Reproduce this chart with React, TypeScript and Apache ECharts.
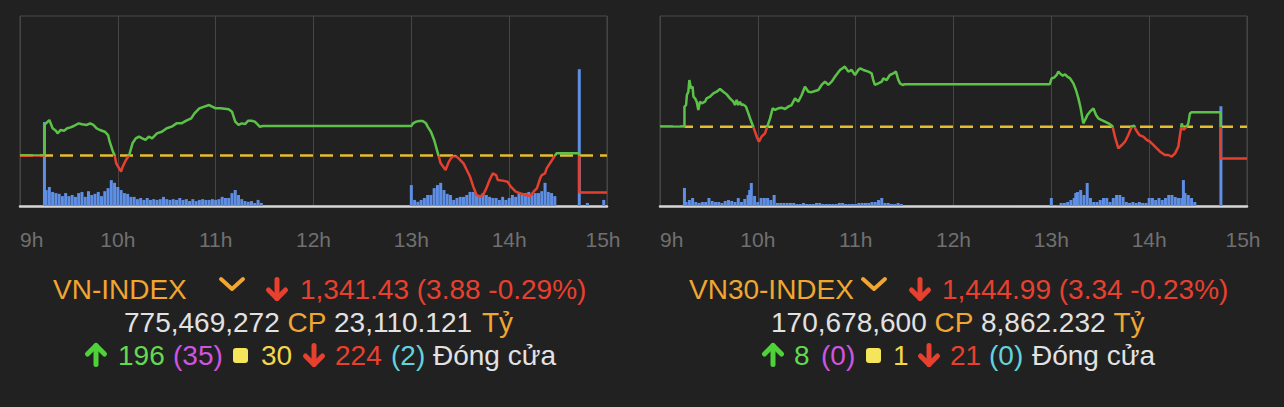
import React, { useEffect, useRef } from "react";
import * as echarts from "echarts";

const FF = "'Liberation Sans', Arial, 'DejaVu Sans', sans-serif";
const hourLabels = ["9h", "10h", "11h", "12h", "13h", "14h", "15h"];

// ---- VN-INDEX (minutes after 9:00, index points) ----
const vnRef = 1345.31;
const vnClose = 1341.43;
const vnTimes = [0, 15, 15, 17, 18, 20, 22, 23, 25, 27, 29, 31, 33, 36, 38, 41, 43, 45, 47, 49, 52, 54, 55, 57, 58, 59, 62, 63, 65, 67, 69, 71, 73, 75, 77, 79, 81, 84, 87, 90, 93, 96, 99, 102, 105, 107, 110, 113, 116, 120, 123, 128, 130, 132, 134, 136, 138, 140, 142, 144, 146, 147, 149, 150, 240, 241, 243, 245, 247, 249, 250, 252, 254, 256, 258, 261, 263, 265, 267, 269, 272, 274, 276, 278, 280, 282, 284, 286, 288, 290, 292, 293, 296, 299, 301, 304, 307, 310, 313, 315, 317, 319, 320, 322, 323, 325, 327, 329, 343, 343, 360];
const vnPrices = [1345.31, 1345.31, 1348.53, 1348.88, 1349.05, 1348.18, 1347.93, 1347.65, 1348.0, 1347.93, 1348.18, 1348.28, 1348.42, 1348.7, 1348.6, 1348.53, 1348.7, 1348.53, 1348.18, 1348.0, 1347.82, 1347.47, 1346.77, 1345.72, 1345.37, 1344.49, 1343.61, 1344.14, 1344.84, 1345.37, 1346.6, 1347.12, 1347.3, 1347.12, 1346.95, 1347.3, 1347.12, 1347.65, 1347.82, 1348.18, 1348.35, 1348.7, 1348.7, 1348.98, 1349.23, 1349.75, 1350.28, 1350.46, 1350.63, 1350.28, 1350.28, 1350.18, 1349.93, 1348.88, 1348.53, 1348.7, 1348.63, 1348.98, 1348.98, 1348.88, 1348.53, 1348.35, 1348.42, 1348.42, 1348.42, 1348.7, 1348.88, 1348.95, 1348.95, 1348.7, 1348.35, 1347.82, 1346.95, 1345.72, 1344.49, 1343.79, 1344.67, 1345.19, 1345.26, 1345.02, 1344.49, 1343.79, 1343.09, 1342.04, 1341.16, 1340.98, 1341.16, 1341.86, 1342.74, 1343.44, 1343.26, 1342.74, 1342.67, 1342.56, 1342.04, 1341.51, 1341.33, 1341.16, 1341.05, 1341.51, 1341.86, 1342.91, 1343.26, 1343.44, 1343.96, 1344.49, 1345.02, 1345.54, 1345.54, vnClose, vnClose];
const vnVolTimes = [15, 16, 18, 20, 22, 24, 26, 28, 30, 32, 34, 36, 38, 40, 42, 44, 46, 48, 50, 52, 54, 56, 58, 60, 62, 64, 66, 68, 70, 72, 74, 76, 78, 80, 82, 84, 86, 88, 90, 92, 94, 96, 98, 100, 102, 104, 106, 108, 110, 112, 114, 116, 118, 120, 122, 124, 126, 128, 130, 132, 134, 136, 138, 140, 142, 144, 146, 148, 240, 242, 244, 246, 248, 250, 252, 254, 256, 258, 260, 262, 264, 266, 268, 270, 272, 274, 276, 278, 280, 282, 284, 286, 288, 290, 292, 294, 296, 298, 300, 302, 304, 306, 308, 310, 312, 314, 316, 318, 320, 322, 324, 326, 328, 343, 348, 358];
const vnVols = [22.1, 4.2, 5.0, 3.7, 3.4, 3.2, 2.6, 3.4, 2.6, 2.9, 2.4, 3.4, 3.7, 2.4, 3.9, 2.9, 3.2, 3.7, 2.6, 3.9, 4.7, 6.8, 6.1, 5.0, 4.2, 3.4, 3.2, 2.4, 2.4, 1.8, 2.1, 1.6, 2.1, 1.6, 1.8, 1.6, 1.8, 2.4, 1.8, 1.6, 1.8, 1.6, 2.1, 1.6, 1.8, 1.3, 1.8, 1.3, 1.6, 1.8, 1.6, 1.6, 1.8, 1.6, 1.8, 2.4, 2.1, 2.1, 3.4, 4.2, 2.9, 1.8, 1.3, 1.1, 1.3, 0.8, 1.6, 0.8, 5.5, 1.6, 1.1, 1.6, 2.1, 2.9, 2.9, 4.7, 5.5, 6.1, 4.2, 3.2, 2.9, 1.6, 2.1, 2.4, 2.4, 2.9, 3.7, 3.7, 2.9, 2.4, 3.4, 2.9, 2.4, 2.1, 2.1, 1.6, 2.4, 1.6, 2.1, 2.9, 2.4, 3.4, 2.9, 3.4, 3.7, 2.9, 3.4, 3.4, 3.9, 6.1, 3.7, 3.4, 2.6, 36.0, 0.8, 1.6];

// ---- VN30-INDEX ----
const v30Ref = 1448.33;
const v30Close = 1444.99;
const v30Times = [0, 15, 15, 16, 16.5, 17.4, 18, 19, 20, 20.5, 21.5, 22.5, 23.5, 24.5, 25.6, 27.6, 28.6, 30.7, 32.7, 34.8, 36.8, 38.8, 40.9, 42.9, 45, 46, 47, 48, 49, 50, 51, 52.7, 54.2, 55.6, 57.2, 59.3, 60.7, 62.3, 64.4, 65.8, 67.5, 69.1, 70.5, 72.6, 74.6, 76.7, 78.7, 80.7, 82.8, 84.8, 86.9, 88.9, 91, 93, 95.1, 97.1, 99.1, 101.2, 103.2, 105.3, 107.3, 110.4, 113.4, 115.5, 117.5, 119.6, 121.6, 122.7, 124.7, 127.8, 129.8, 130.8, 131.8, 133.9, 136, 137, 139, 141, 143.1, 144.7, 146.2, 147.2, 148.8, 150, 239, 240.2, 241.7, 243.3, 244.3, 245.3, 247, 248.4, 249.8, 251.5, 253.5, 255.1, 256.6, 258, 259.6, 260.7, 262.1, 263.7, 265.8, 267.4, 268.8, 270.9, 272.9, 275, 277, 277.6, 279, 281.1, 283.2, 285.2, 287.2, 289.3, 290.7, 291.9, 294, 296.4, 298.5, 300.5, 303.6, 306.7, 309.7, 311.8, 313.8, 315.9, 317.9, 318.9, 320, 321, 322, 323, 324, 325, 326, 343.9, 343.9, 360];
const v30Prices = [1448.33, 1448.33, 1450.46, 1450.63, 1451.68, 1452.03, 1453.26, 1452.39, 1452.56, 1451.51, 1451.33, 1450.98, 1450.11, 1450.98, 1450.81, 1450.98, 1451.33, 1451.51, 1451.86, 1452.03, 1452.32, 1452.03, 1451.75, 1451.33, 1450.98, 1450.63, 1451.16, 1450.63, 1450.98, 1450.63, 1450.7, 1450.46, 1449.75, 1449.05, 1448.35, 1447.3, 1446.77, 1447.3, 1447.65, 1448.35, 1449.23, 1450.28, 1450.11, 1450.28, 1450.35, 1450.21, 1450.46, 1450.63, 1451.33, 1450.98, 1451.68, 1452.56, 1452.03, 1451.98, 1452.11, 1452.21, 1452.74, 1453.09, 1452.74, 1453.09, 1453.61, 1454.32, 1454.67, 1454.14, 1454.32, 1453.79, 1454.32, 1454.49, 1454.32, 1454.14, 1453.96, 1453.26, 1452.74, 1452.91, 1453.09, 1453.44, 1453.26, 1453.79, 1453.96, 1454.14, 1453.26, 1452.91, 1452.74, 1452.81, 1452.81, 1453.44, 1453.51, 1453.79, 1454.14, 1453.96, 1453.72, 1453.86, 1453.61, 1453.44, 1452.91, 1452.21, 1451.33, 1450.28, 1448.7, 1449.05, 1449.58, 1449.93, 1450.28, 1449.58, 1449.23, 1449.05, 1448.88, 1448.7, 1448.46, 1448.35, 1447.3, 1446.07, 1446.42, 1446.77, 1447.47, 1448.35, 1448.46, 1448.0, 1447.47, 1447.3, 1446.95, 1446.77, 1446.25, 1445.72, 1445.37, 1445.37, 1445.19, 1445.54, 1446.25, 1447.47, 1448.7, 1448.0, 1448.18, 1448.35, 1448.7, 1449.75, 1449.86, 1449.86, v30Close, v30Close];
const v30VolTimes = [15, 16, 18, 20, 22, 24, 26, 28, 30, 32, 34, 36, 38, 40, 42, 44, 46, 48, 50, 52, 54, 55, 56, 58, 60, 62, 64, 66, 68, 70, 72, 74, 76, 78, 80, 82, 84, 86, 88, 90, 92, 94, 96, 98, 100, 102, 104, 106, 108, 110, 112, 114, 116, 118, 120, 122, 124, 126, 128, 130, 132, 134, 136, 138, 140, 142, 144, 146, 148, 240, 242, 244, 246, 248, 250, 252, 254, 255, 256, 258, 260, 262, 264, 266, 268, 270, 272, 274, 276, 278, 280, 282, 284, 286, 288, 290, 292, 294, 296, 298, 300, 302, 304, 306, 308, 310, 312, 314, 316, 318, 320, 321, 322, 324, 326, 328, 344];
const v30Vols = [1.9, 0.42, 0.63, 0.84, 0.42, 0.32, 0.42, 0.42, 0.84, 0.53, 0.42, 0.42, 0.32, 0.53, 0.63, 0.53, 0.42, 0.84, 0.42, 0.74, 1.16, 1.68, 2.42, 1.05, 0.42, 0.84, 0.84, 0.84, 0.63, 1.16, 0.32, 0.32, 0.32, 0.32, 0.32, 0.32, 0.21, 0.21, 0.32, 0.21, 0.21, 0.21, 0.32, 0.32, 0.21, 0.21, 0.21, 0.21, 0.21, 0.32, 0.32, 0.21, 0.21, 0.21, 0.21, 0.32, 0.32, 0.32, 0.32, 0.42, 0.42, 0.63, 0.84, 0.32, 0.32, 0.21, 0.21, 0.32, 0.21, 0.84, 0.05, 0.11, 0.32, 0.32, 0.42, 0.63, 0.84, 1.37, 1.47, 1.68, 1.16, 2.42, 0.84, 0.42, 0.42, 0.63, 0.84, 0.84, 0.42, 0.84, 1.16, 1.16, 0.95, 0.42, 0.32, 0.42, 0.32, 0.42, 0.32, 0.32, 0.84, 0.84, 0.63, 0.84, 0.63, 0.84, 1.16, 1.16, 0.95, 0.84, 0.84, 2.73, 1.37, 1.16, 0.84, 0.42, 10.5];

const GREEN_LINE = "#5cc247";
const RED_LINE = "#e5402f";
const ORANGE = "#f0a630";
const RED_TXT = "#e8402f";
const WHITE = "#e2e2e2";

function panel(i: number, left: number, times: number[], prices: number[], ref: number, volTimes: number[], vols: number[], yMin: number, yMax: number, volMax: number) {
  const grid = { left, top: 16, width: 587, height: 190, show: true, borderColor: "#4b4b4b", borderWidth: 1, backgroundColor: "transparent" };
  const xAxis = {
    type: "value", gridIndex: i, min: 0, max: 360, interval: 60,
    axisLine: { show: true, onZero: false, lineStyle: { color: "#d6d6d6", width: 2.5 } },
    axisTick: { show: false },
    splitLine: { show: true, lineStyle: { color: "#454545", width: 1 } },
    axisLabel: {
      color: "#707070", fontSize: 21, fontFamily: FF, margin: 23, alignMinLabel: "left",
      formatter: (v: number) => { const s = hourLabels[Math.round(v / 60)]; return v === 360 ? "{m|" + s + "}" : s; },
      rich: { m: { color: "#707070", fontSize: 21, fontFamily: FF, padding: [0, 8, 0, 0] } },
    },
  };
  const yAxes = [
    { type: "value", gridIndex: i, min: yMin, max: yMax, show: false, splitLine: { show: false } },
    { type: "value", gridIndex: i, min: 0, max: volMax, show: false, splitLine: { show: false } },
  ];
  const series = [
    { type: "bar", xAxisIndex: i, yAxisIndex: 2 * i + 1, data: volTimes.map((t, k) => [t, vols[k]]), barWidth: 3, itemStyle: { color: "#5e8fe4" }, z: 2, silent: true },
    { type: "line", xAxisIndex: i, yAxisIndex: 2 * i, data: [[0, ref], [360, ref]], symbol: "none", lineStyle: { color: "#e6bd2e", width: 2.5, type: [13, 7] }, z: 3, silent: true },
    { type: "line", xAxisIndex: i, yAxisIndex: 2 * i, data: times.map((t, k) => [t, prices[k]]), symbol: "none", lineStyle: { width: 2.5 }, z: 4, silent: true },
  ];
  return { grid, xAxis, yAxes, series };
}

const text = (x: number, y: number, s: string, fill: string) => ({
  type: "text", x, y, silent: true,
  style: { text: s, fill, fontSize: 28, fontFamily: FF, textAlign: "left", textVerticalAlign: "middle", align: "left", verticalAlign: "middle" },
});
const arrow = (cx: number, cy: number, color: string, up: boolean) => {
  const d = up ? -1 : 1;
  return [
    { type: "line", silent: true, shape: { x1: cx, y1: cy - 9.5 * d, x2: cx, y2: cy + 9.5 * d }, style: { stroke: color, lineWidth: 5, lineCap: "round" } },
    { type: "polyline", silent: true, shape: { points: [[cx - 8.5, cy + 1 * d], [cx, cy + 9.5 * d], [cx + 8.5, cy + 1 * d]] }, style: { stroke: color, fill: null, lineWidth: 5, lineCap: "round", lineJoin: "round" } },
  ];
};
const chevron = (cx: number, cy: number) => ({
  type: "polyline", silent: true, shape: { points: [[cx - 11, cy - 5], [cx, cy + 5], [cx + 11, cy - 5]] },
  style: { stroke: ORANGE, fill: null, lineWidth: 4, lineCap: "round", lineJoin: "round" },
});
const square = (x: number, y: number) => ({ type: "rect", silent: true, shape: { x, y, width: 15, height: 15, r: 3 }, style: { fill: "#f5e55a" } });

export default function App() {
  const ref = useRef<HTMLDivElement>(null);
  useEffect(() => {
    if (!ref.current) return;
    const chart = echarts.init(ref.current, null, { renderer: "svg" });
    const p0 = panel(0, 20, vnTimes, vnPrices, vnRef, vnVolTimes, vnVols, 1340, 1360, 50);
    const p1 = panel(1, 660, v30Times, v30Prices, v30Ref, v30VolTimes, v30Vols, 1440, 1460, 20);
    const r1 = 289, r2 = 322, r3 = 355;
    const graphics: any[] = [
      text(53, r1, "VN-INDEX", ORANGE),
      chevron(232, 284),
      ...arrow(277, r1, RED_TXT, false),
      text(300, r1, "1,341.43 (3.88 -0.29%)", RED_TXT),
      text(124, r2, "775,469,272", WHITE),
      text(287.5, r2, "CP", ORANGE),
      text(334, r2, "23,110.121", WHITE),
      text(482, r2, "Tỷ", ORANGE),
      ...arrow(96, r3, "#4fd13a", true),
      text(118, r3, "196", "#63d94f"),
      text(173, r3, "(35)", "#cf55e0"),
      square(233, r3 - 7),
      text(261, r3, "30", "#f0d84a"),
      ...arrow(314, r3, RED_TXT, false),
      text(335, r3, "224", RED_TXT),
      text(391, r3, "(2)", "#62d3de"),
      text(433, r3, "Đóng cửa", WHITE),

      text(689, r1, "VN30-INDEX", ORANGE),
      chevron(874, 284),
      ...arrow(920, r1, RED_TXT, false),
      text(942, r1, "1,444.99 (3.34 -0.23%)", RED_TXT),
      text(771, r2, "170,678,600", WHITE),
      text(934.5, r2, "CP", ORANGE),
      text(981, r2, "8,862.232", WHITE),
      text(1113.5, r2, "Tỷ", ORANGE),
      ...arrow(773, r3, "#4fd13a", true),
      text(794, r3, "8", "#63d94f"),
      text(821, r3, "(0)", "#cf55e0"),
      square(866, r3 - 7),
      text(893, r3, "1", "#f0d84a"),
      ...arrow(929, r3, RED_TXT, false),
      text(950, r3, "21", RED_TXT),
      text(989, r3, "(0)", "#62d3de"),
      text(1032, r3, "Đóng cửa", WHITE),
    ];
    chart.setOption({
      animation: false,
      backgroundColor: "#212121",
      grid: [p0.grid, p1.grid],
      xAxis: [p0.xAxis, p1.xAxis],
      yAxis: [...p0.yAxes, ...p1.yAxes],
      series: [...p0.series, ...p1.series],
      visualMap: [
        { type: "piecewise", show: false, seriesIndex: 2, dimension: 1, pieces: [{ gt: 1000, lte: vnRef, color: RED_LINE }, { gt: vnRef, lte: 2000, color: GREEN_LINE }] },
        { type: "piecewise", show: false, seriesIndex: 5, dimension: 1, pieces: [{ gt: 1000, lte: v30Ref, color: RED_LINE }, { gt: v30Ref, lte: 2000, color: GREEN_LINE }] },
      ],
      graphic: graphics,
    });
    return () => chart.dispose();
  }, []);
  return <div ref={ref} style={{ position: "absolute", left: 0, top: 0, width: 1284, height: 407 }} />;
}
